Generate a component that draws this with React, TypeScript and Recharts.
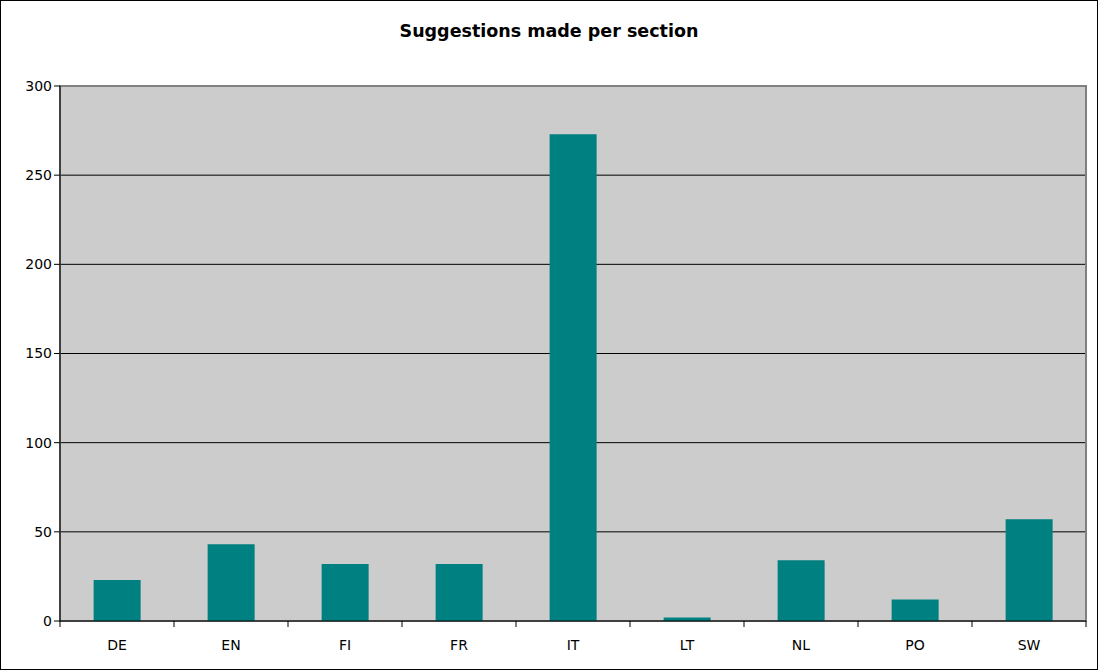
import React from "react";
import {
  Bar,
  BarChart,
  CartesianGrid,
  ReferenceArea,
  XAxis,
  YAxis,
} from "recharts";

const sections = ["DE", "EN", "FI", "FR", "IT", "LT", "NL", "PO", "SW"];
const suggestions = [23, 43, 32, 32, 273, 2, 34, 12, 57];
const yTicks = [0, 50, 100, 150, 200, 250, 300];

const data = sections.map((s, i) => ({ section: s, count: suggestions[i] }));

const FONT = "Verdana, 'DejaVu Sans', sans-serif";
const PLOT_LEFT = 60;
const PLOT_RIGHT = 1086;
const STEP = (PLOT_RIGHT - PLOT_LEFT) / sections.length;

function CategoryTick(props: any) {
  const { x, y, payload, index } = props;
  const isLast = index === sections.length - 1;
  return (
    <g>
      <line x1={x - STEP / 2} y1={y - 8} x2={x - STEP / 2} y2={y - 2} stroke="#000" />
      {isLast && (
        <line x1={x + STEP / 2} y1={y - 8} x2={x + STEP / 2} y2={y - 2} stroke="#000" />
      )}
      <text
        x={x}
        y={y + 21}
        textAnchor="middle"
        fontSize={14}
        fontFamily={FONT}
        fill="#000"
      >
        {payload.value}
      </text>
    </g>
  );
}

export default function App() {
  return (
    <div style={{ position: "relative", width: 1098, height: 670 }}>
      <style>{"body{margin:0}"}</style>
      <div
        style={{
          position: "absolute",
          inset: 0,
          border: "1px solid #000",
          boxSizing: "border-box",
        }}
      />
      <div
        style={{
          position: "absolute",
          top: 20,
          left: 0,
          width: 1098,
          textAlign: "center",
          fontFamily: FONT,
          fontWeight: "bold",
          fontSize: 17.5,
          lineHeight: "22px",
          color: "#000",
        }}
      >
        Suggestions made per section
      </div>
      <BarChart
        width={1098}
        height={670}
        data={data}
        margin={{ top: 86, right: 12, bottom: 19, left: 8 }}
        barCategoryGap="29.5%"
      >
        <CartesianGrid
          vertical={false}
          stroke="#000"
          fill="#CCCCCC"
          fillOpacity={1}
          horizontalValues={[50, 100, 150, 200, 250]}
        />
        <ReferenceArea
          y1={0}
          y2={300}
          fill="none"
          stroke="#808080"
          strokeWidth={2}
          ifOverflow="visible"
        />
        <XAxis
          dataKey="section"
          axisLine={{ stroke: "#000" }}
          tickLine={false}
          tick={<CategoryTick />}
          height={30}
          interval={0}
        />
        <YAxis
          domain={[0, 300]}
          ticks={yTicks}
          width={52}
          axisLine={{ stroke: "#000" }}
          tickLine={{ stroke: "#000" }}
          tickSize={6}
          tick={{ fontSize: 14, fontFamily: FONT, fill: "#000" }}
          interval={0}
        />
        <Bar dataKey="count" fill="#008080" isAnimationActive={false} />
      </BarChart>
    </div>
  );
}
